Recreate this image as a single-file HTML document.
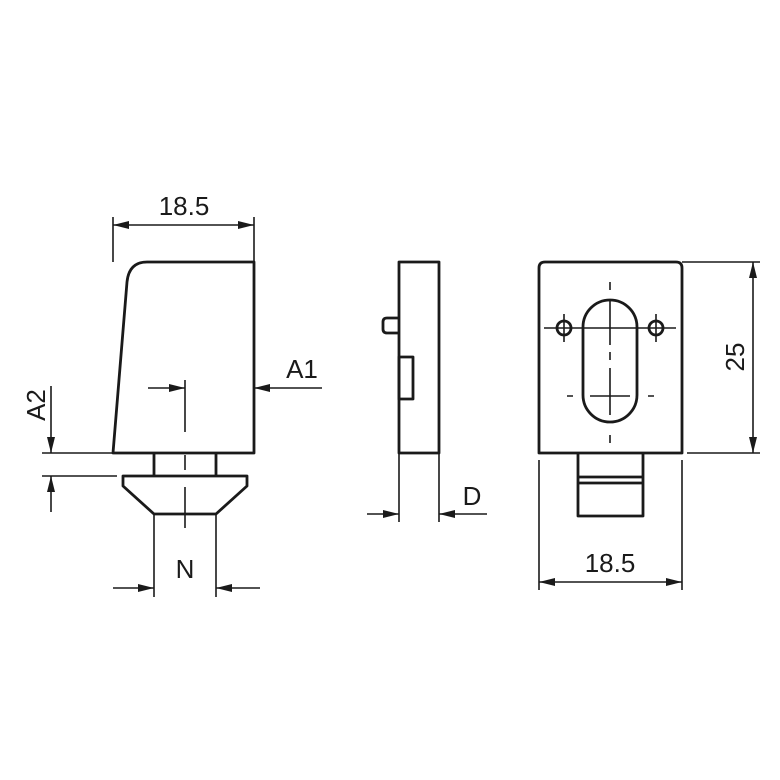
<!DOCTYPE html>
<html><head><meta charset="utf-8"><style>html,body{margin:0;padding:0;background:#fff}svg{display:block}</style></head>
<body>
<svg width="780" height="780" viewBox="0 0 780 780" xmlns="http://www.w3.org/2000/svg">
<defs>
<marker id="a" viewBox="0 0 16 8" refX="16" refY="4" markerWidth="16" markerHeight="8" markerUnits="userSpaceOnUse" orient="auto"><path d="M0,0 L16,4 L0,8 z" fill="#1a1a1a"/></marker>
</defs>
<g fill="none" stroke="#1a1a1a" stroke-width="2.8" stroke-linejoin="round">
<path d="M113,453 L127,282 Q129,262 147,262 L254,262 L254,453 Z"/>
<path d="M154,453 V476 M216,453 V476"/>
<path d="M123,476 H247 V486 L216,514 H154 L123,486 Z"/>
<rect x="399" y="262" width="40" height="191"/>
<path d="M399,318 H387 Q383,318 383,322 V329 Q383,333 387,333 H399"/>
<rect x="399" y="357" width="14" height="42"/>
<path d="M539,453 V268 Q539,262 545,262 H676 Q682,262 682,268 V453 Z"/>
<rect x="583" y="300" width="54" height="122" rx="27" ry="27"/>
<circle cx="564" cy="328" r="7"/>
<circle cx="656" cy="328" r="7"/>
<path d="M578,453 V516 H643 V453 M578,477 H643 M578,483 H643"/>
</g>
<g fill="none" stroke="#1a1a1a" stroke-width="1.6">
<path d="M113,217 V262 M254,217 V262"/>
<path d="M184,225 H113" marker-end="url(#a)"/>
<path d="M184,225 H254" marker-end="url(#a)"/>
<path d="M148,388 H185" marker-end="url(#a)"/>
<path d="M322,388 H254" marker-end="url(#a)"/>
<path d="M185,380 V432 M185,455 V470 M185,487 V528"/>
<path d="M42,453 H113 M42,476 H117"/>
<path d="M51,386 V453" marker-end="url(#a)"/>
<path d="M51,512 V476" marker-end="url(#a)"/>
<path d="M154,514 V597 M216,514 V597"/>
<path d="M113,588 H154" marker-end="url(#a)"/>
<path d="M260,588 H216" marker-end="url(#a)"/>
<path d="M399,453 V522 M439,453 V522"/>
<path d="M367,514 H399" marker-end="url(#a)"/>
<path d="M487,514 H439" marker-end="url(#a)"/>
<path d="M544,328 H676"/>
<path d="M564,314 V342 M656,314 V342"/>
<path d="M610,282 V290 M610,300 V345 M610,352 V360 M610,368 V415 M610,435 V443"/>
<path d="M567,396 H573 M590,396 H630 M648,396 H654"/>
<path d="M539,460 V590 M682,460 V590"/>
<path d="M610,582 H539" marker-end="url(#a)"/>
<path d="M610,582 H682" marker-end="url(#a)"/>
<path d="M682,262 H760 M687,453 H760"/>
<path d="M753,357 V262" marker-end="url(#a)"/>
<path d="M753,357 V453" marker-end="url(#a)"/>
</g>
<g font-family="Liberation Sans, sans-serif" font-size="26" fill="#1a1a1a" text-anchor="middle">
<text x="184" y="215">18.5</text>
<text x="302" y="378">A1</text>
<text x="185" y="578">N</text>
<text x="472" y="505">D</text>
<text x="610" y="572">18.5</text>
<text transform="translate(45,405) rotate(-90)">A2</text>
<text transform="translate(744,357) rotate(-90)">25</text>
</g>
</svg>
</body></html>
